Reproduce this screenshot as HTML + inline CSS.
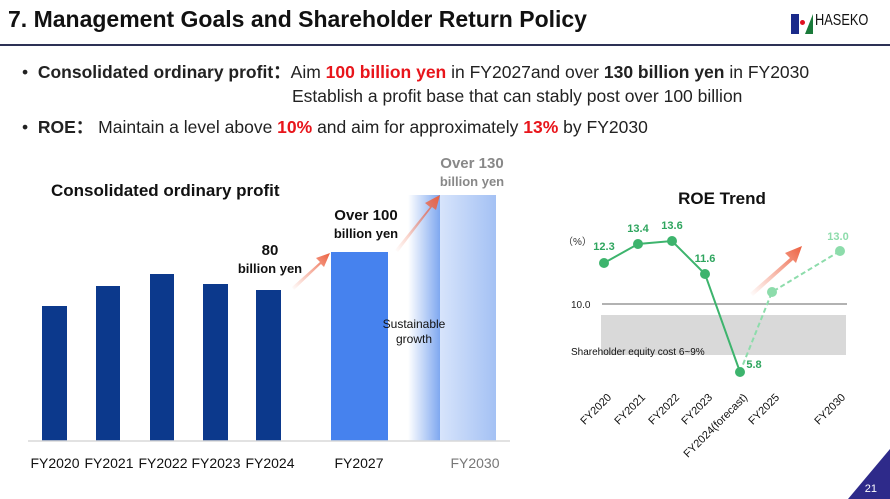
<!DOCTYPE html>
<html><head><meta charset="utf-8"><style>
body{margin:0;width:890px;height:499px;overflow:hidden;background:#fff;font-family:"Liberation Sans",sans-serif;position:relative}
.a{position:absolute;white-space:nowrap}
.r{color:#e8151b;font-weight:bold}
.b{font-weight:bold}
</style></head><body>
<div class="a" style="left:8px;top:6px;font-size:23px;font-weight:bold;color:#111">7. Management Goals and Shareholder Return Policy</div>
<div class="a" style="left:0;top:44px;width:890px;height:2px;background:#2d3155"></div>
<div class="a" style="left:791px;top:14px;width:8px;height:20px;background:#1a2a8a"></div>
<div class="a" style="left:800px;top:20px;width:5px;height:5px;border-radius:50%;background:#e01020"></div>
<div class="a" style="left:805px;top:14px;width:0;height:0;border-left:8px solid transparent;border-bottom:20px solid #1a7a3a"></div>
<div class="a" style="left:815px;top:12px;font-size:16px;color:#111;transform:scaleX(0.8);transform-origin:left">HASEKO</div>

<div class="a" style="left:22px;top:59px;font-size:17.5px;color:#222">•&nbsp;&nbsp;<span class="b">Consolidated ordinary profit：</span>Aim <span class="r">100 billion yen</span> in FY2027and over <span class="b">130 billion yen</span> in FY2030</div>
<div class="a" style="left:292px;top:86px;font-size:17.5px;color:#222">Establish a profit base that can stably post over 100 billion</div>
<div class="a" style="left:22px;top:114px;font-size:17.5px;color:#222">•&nbsp;&nbsp;<span class="b">ROE：</span> Maintain a level above <span class="r">10%</span> and aim for approximately <span class="r">13%</span> by FY2030</div>

<svg class="a" style="left:0;top:0" width="890" height="499">
<defs>
<linearGradient id="g1" x1="0" x2="1"><stop offset="0" stop-color="#fff"/><stop offset="1" stop-color="#7fa8f0"/></linearGradient>
<linearGradient id="g2" x1="0" x2="1"><stop offset="0" stop-color="#d7e4fb"/><stop offset="1" stop-color="#a4c1f4"/></linearGradient>
<linearGradient id="ar" x1="0" y1="1" x2="1" y2="0"><stop offset="0" stop-color="#f07050" stop-opacity="0"/><stop offset="1" stop-color="#ec6040"/></linearGradient>
</defs>
<g fill="#0c398c">
<rect x="42" y="306" width="25" height="135"/><rect x="96" y="286" width="24" height="155"/><rect x="150" y="274" width="24" height="167"/><rect x="203" y="284" width="25" height="157"/><rect x="256" y="290" width="25" height="151"/>
</g>
<rect x="331" y="252" width="57" height="189" fill="#4682ee"/>
<rect x="408" y="195" width="32" height="246" fill="url(#g1)"/>
<rect x="440" y="195" width="56" height="246" fill="url(#g2)"/>
<line x1="28" y1="441" x2="510" y2="441" stroke="#d9d9d9" stroke-width="1.5"/>
<path d="M292 287 L320 262 L316 258 L330 253 L324 267 L321 264 L294 290Z" fill="url(#ar)"/>
<path d="M395 250 L430 207 L425 203 L440 195 L436 210 L432 207 L398 252Z" fill="url(#ar)"/>
<path d="M750 293 L790 258 L785 253 L802 246 L796 263 L793 260 L753 296Z" fill="url(#ar)"/>
<g font-size="14" fill="#111" text-anchor="middle">
<text x="55" y="468">FY2020</text><text x="109" y="468">FY2021</text><text x="163" y="468">FY2022</text><text x="216" y="468">FY2023</text><text x="270" y="468">FY2024</text><text x="359" y="468">FY2027</text><text x="475" y="468" fill="#777">FY2030</text>
</g>
<text x="51" y="196" font-size="17" font-weight="bold" fill="#111">Consolidated ordinary profit</text>
<g font-weight="bold" text-anchor="middle">
<text x="270" y="255" font-size="15" fill="#111">80</text><text x="270" y="273" font-size="13" fill="#111">billion yen</text>
<text x="366" y="220" font-size="15" fill="#111">Over 100</text><text x="366" y="238" font-size="13" fill="#111">billion yen</text>
<text x="472" y="168" font-size="15" fill="#888">Over 130</text><text x="472" y="186" font-size="13" fill="#888">billion yen</text>
</g>
<g font-size="12" fill="#111" text-anchor="middle"><text x="414" y="328">Sustainable</text><text x="414" y="343">growth</text></g>

<text x="722" y="204" font-size="17" font-weight="bold" fill="#111" text-anchor="middle">ROE Trend</text>
<text x="563" y="245" font-size="10" fill="#333">（%）</text>
<rect x="601" y="315" width="245" height="40" fill="#d9d9d9"/>
<line x1="602" y1="304" x2="847" y2="304" stroke="#666" stroke-width="1"/>
<text x="571" y="308" font-size="10" fill="#222">10.0</text>
<text x="571" y="355" font-size="10" fill="#111">Shareholder equity cost 6~9%</text>
<polyline points="604,263 638,244 672,241 705,274 740,372" fill="none" stroke="#3db46d" stroke-width="2"/>
<polyline points="740,372 772,292 840,251" fill="none" stroke="#8ddcab" stroke-width="2" stroke-dasharray="5,3"/>
<g fill="#3db46d"><circle cx="604" cy="263" r="5"/><circle cx="638" cy="244" r="5"/><circle cx="672" cy="241" r="5"/><circle cx="705" cy="274" r="5"/><circle cx="740" cy="372" r="5"/></g>
<g fill="#8ddcab"><circle cx="772" cy="292" r="5"/><circle cx="840" cy="251" r="5"/></g>
<g font-size="11" font-weight="bold" fill="#2ea55e" text-anchor="middle">
<text x="604" y="250">12.3</text><text x="638" y="232">13.4</text><text x="672" y="229">13.6</text><text x="705" y="262">11.6</text><text x="754" y="368">5.8</text><text x="838" y="240" fill="#8ddcab">13.0</text>
</g>
<g font-size="11" fill="#111" text-anchor="end">
<text transform="translate(612,398) rotate(-45)">FY2020</text>
<text transform="translate(646,398) rotate(-45)">FY2021</text>
<text transform="translate(680,398) rotate(-45)">FY2022</text>
<text transform="translate(713,398) rotate(-45)">FY2023</text>
<text transform="translate(748,398) rotate(-45)">FY2024(forecast)</text>
<text transform="translate(780,398) rotate(-45)">FY2025</text>
<text transform="translate(846,398) rotate(-45)">FY2030</text>
</g>
<polygon points="890,449 890,499 848,499" fill="#2e2a8a"/>
<text x="877" y="492" font-size="11" fill="#fff" text-anchor="end">21</text>
</svg>
</body></html>
